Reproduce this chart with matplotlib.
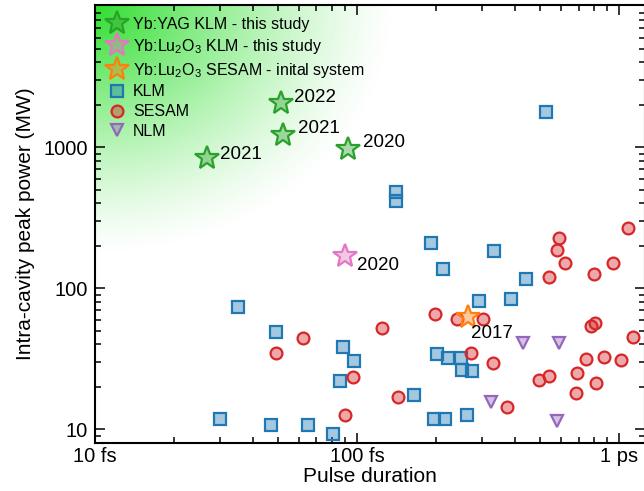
import matplotlib
matplotlib.use('Agg')
import matplotlib.pyplot as plt
from matplotlib.lines import Line2D
from matplotlib.colors import to_rgb, to_rgba
from matplotlib.ticker import NullFormatter, LogLocator
import numpy as np

plt.rcParams['font.family'] = ['Liberation Sans', 'DejaVu Sans']
plt.rcParams['mathtext.fontset'] = 'custom'
plt.rcParams['mathtext.rm'] = 'Liberation Sans'
plt.rcParams['mathtext.default'] = 'regular'

# ---- data (pulse duration in fs, intra-cavity peak power in MW) ----
klm_x = [526, 141, 141, 191, 212, 332, 441, 293, 385, 97.4, 201, 222, 250, 252,
         274, 165, 196, 217, 262, 35.0, 49.1, 88.6, 86.1, 30.1, 47.0, 65.2, 80.7]
klm_y = [1790, 484, 418, 210, 136, 184, 116, 81.3, 84.4, 30.5, 34.2, 31.9, 32.2, 26.3,
         25.8, 17.5, 11.8, 11.8, 12.6, 73.3, 49.2, 38.2, 22.1, 11.8, 10.8, 10.7, 9.2]

sesam_x = [590, 578, 622, 1080, 951, 800, 539, 198.5, 240, 302, 124, 782, 810, 1134,
           272, 331, 747, 879, 1015, 96.5, 495, 540, 689, 819, 687, 143, 373, 62.4,
           49.1, 90.2]
sesam_y = [226, 187, 150, 266, 150, 126, 121, 65.4, 60.5, 60.3, 52.6, 54.0, 57.0, 45.4,
           34.9, 29.4, 31.4, 32.7, 31.0, 23.4, 22.4, 23.9, 24.9, 21.4, 18.0, 16.9, 14.5,
           44.6, 34.6, 12.7]

nlm_x = [429, 592, 325.5, 578]
nlm_y = [40.7, 41.1, 15.7, 11.5]

yag_x = [26.8, 51.2, 52.0, 92.2]
yag_y = [836, 2051, 1222, 968]
yag_years = ['2021', '2022', '2021', '2020']

lu_klm_x = [90.2]
lu_klm_y = [170]
lu_klm_years = ['2020']

lu_sesam_x = [264]
lu_sesam_y = [62.9]
lu_sesam_years = ['2017']

xticks = [10, 100, 1000]
xticklabels = ['10 fs', '100 fs', '1 ps']
yticks = [10, 100, 1000]
yticklabels = ['10', '100', '1000']

# ---- figure ----
fig = plt.figure(figsize=(6.44, 4.91), dpi=100)
ax = fig.add_axes([95/644, 48.3/491, 550/644, 437.7/491])
ax.set_xscale('log')
ax.set_yscale('log')

# green glow in the upper-left corner
H, W = 438, 550
yy, xx = np.mgrid[0:H, 0:W]
r = np.sqrt((xx/300.0)**2 + (yy/250.0)**2)
img = np.zeros((H, W, 4))
img[..., :3] = to_rgb('#2ede2e')
img[..., 3] = np.clip(1 - r, 0, 1)**1.3
ax.imshow(img, extent=[0, 1, 0, 1], transform=ax.transAxes, origin='upper',
          aspect='auto', zorder=0, interpolation='bilinear')

def style(c):
    return dict(ls='none', mfc=to_rgba(c, 0.4), mec=c, mew=1.6)

ax.plot(klm_x, klm_y, marker='s', ms=8, zorder=3, **style('#1f77b4'))
ax.plot(sesam_x, sesam_y, marker='o', ms=8.5, zorder=3, **style('#d62728'))
ax.plot(nlm_x, nlm_y, marker='v', ms=8.5, zorder=3, **style('#9467bd'))
ax.plot(yag_x, yag_y, marker='*', ms=18, zorder=4, **style('#2ca02c'))
ax.plot(lu_klm_x, lu_klm_y, marker='*', ms=18, zorder=4, **style('#e377c2'))
ax.plot(lu_sesam_x, lu_sesam_y, marker='*', ms=18, zorder=4, **style('#ff7f0e'))

offsets = [(9.5, 3), (9.5, 4.5), (11, 4.5), (11, 4.5)]
for x, y, t, o in zip(yag_x, yag_y, yag_years, offsets):
    ax.annotate(t, (x, y), xytext=o, textcoords='offset points',
                ha='left', va='center', fontsize=13.5, zorder=5)
for x, y, t in zip(lu_klm_x, lu_klm_y, lu_klm_years):
    ax.annotate(t, (x, y), xytext=(8.5, -7), textcoords='offset points',
                ha='left', va='center', fontsize=13.5, zorder=5)
for x, y, t in zip(lu_sesam_x, lu_sesam_y, lu_sesam_years):
    ax.annotate(t, (x, y), xytext=(2.5, -12), textcoords='offset points',
                ha='left', va='center', fontsize=13.5, zorder=5)

ax.set_xlim(10, 1255)
ax.set_ylim(8.04, 10200)

ax.set_xticks(xticks)
ax.set_xticklabels(xticklabels)
ax.set_yticks(yticks)
ax.set_yticklabels(yticklabels)
ax.xaxis.set_minor_locator(LogLocator(base=10, subs=np.arange(2, 10)))
ax.yaxis.set_minor_locator(LogLocator(base=10, subs=np.arange(2, 10)))
ax.xaxis.set_minor_formatter(NullFormatter())
ax.yaxis.set_minor_formatter(NullFormatter())
ax.tick_params(which='both', direction='in', top=True, right=True, width=1.1)
ax.tick_params(which='major', length=7, labelsize=14.5)
ax.tick_params(which='minor', length=4.5)
ax.tick_params(axis='x', which='major', pad=3)
ax.tick_params(axis='y', which='major', pad=5)
for s in ax.spines.values():
    s.set_linewidth(1.5)

ax.set_xlabel('Pulse duration', fontsize=15, labelpad=1)
ax.set_ylabel('Intra-cavity peak power (MW)', fontsize=15, labelpad=6)

handles = [
    Line2D([], [], marker='*', ms=18, **style('#2ca02c')),
    Line2D([], [], marker='*', ms=18, **style('#e377c2')),
    Line2D([], [], marker='*', ms=18, **style('#ff7f0e')),
    Line2D([], [], marker='s', ms=8, **style('#1f77b4')),
    Line2D([], [], marker='o', ms=8.5, **style('#d62728')),
    Line2D([], [], marker='v', ms=8.5, **style('#9467bd')),
]
labels = ['Yb:YAG KLM - this study',
          'Yb:Lu$_2$O$_3$ KLM - this study',
          'Yb:Lu$_2$O$_3$ SESAM - inital system',
          'KLM', 'SESAM', 'NLM']
ax.legend(handles, labels, loc='upper left', bbox_to_anchor=(0.0226, 0.9725),
          frameon=False, fontsize=11.5, handlelength=1.2, handletextpad=0.4,
          borderpad=0, borderaxespad=0, labelspacing=0.3)

fig.savefig('out.png', dpi=100)
